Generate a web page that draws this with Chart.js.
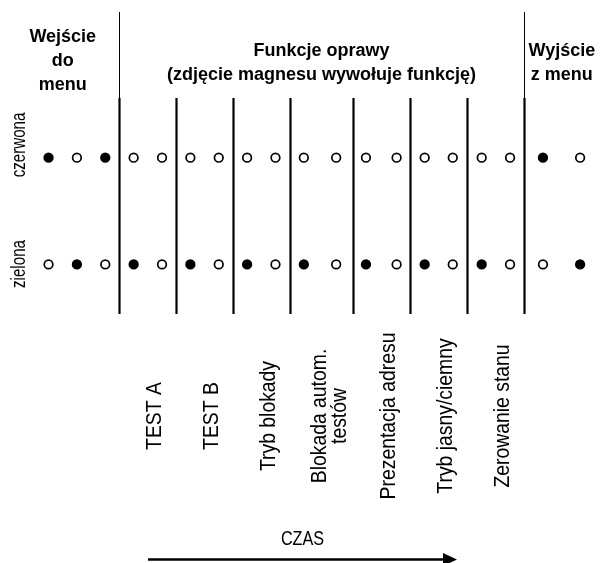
<!DOCTYPE html>
<html>
<head>
<meta charset="utf-8">
<script src="https://cdn.jsdelivr.net/npm/chart.js@4"></script>
<style>
  html, body { margin: 0; padding: 0; background: #fff; }
  #wrap { width: 602px; height: 563px; }
</style>
</head>
<body>
<div id="wrap"><canvas id="diagram"></canvas></div>
<script>
// chwile czasu, w ktorych dioda jest sprawdzana
const KROKI = [0, 1, 2, 3, 4, 5, 6, 7, 8, 9, 10.14, 11.19, 12.27, 13.26, 14.25, 15.27, 16.27, 17.43, 18.74];

// 1 = dioda swieci, 0 = zgaszona
const CZERWONA = [1, 0, 1, 0, 0, 0, 0, 0, 0, 0, 0, 0, 0, 0, 0, 0, 0, 1, 0];
const ZIELONA  = [0, 1, 0, 1, 0, 1, 0, 1, 0, 1, 0, 1, 0, 1, 0, 1, 0, 0, 1];

const WIERSZE = ["czerwona", "zielona"];

// granice pomiedzy funkcjami
const GRANICE = [2.5, 4.5, 6.5, 8.5, 10.75, 12.75, 14.75, 16.75];

const FUNKCJE = [
    ["TEST A"],
    ["TEST B"],
    ["Tryb blokady"],
    ["Blokada autom.", "testów"],
    ["Prezentacja adresu"],
    ["Tryb jasny/ciemny"],
    ["Zerowanie stanu"]
];

const NAGLOWKI = [
    { linie: ["Wejście", "do", "menu"], od: -1.5, do: 2.5 },
    { linie: ["Funkcje oprawy", "(zdjęcie magnesu wywołuje funkcję)"], od: 2.5, do: 16.75 },
    { linie: ["Wyjście", "z menu"], od: 16.75, do: 19.3 }
];

const OS_CZASU = "CZAS";

const FONT = '"Liberation Sans", Arial, sans-serif';

function punkty(stany, y) {
    return stany.map((s, i) => ({ x: KROKI[i], y: y }));
}

function kolory(stany) {
    return stany.map(s => s ? "#000" : "#fff");
}

// tekst zwezony (font waski), opcjonalnie obrocony o 90 stopni
function napis(ctx, tekst, x, y, zwezenie, obrot) {
    ctx.save();
    ctx.translate(x, y);
    if (obrot) ctx.rotate(-Math.PI / 2);
    ctx.scale(zwezenie, 1);
    ctx.fillText(tekst, 0, 0);
    ctx.restore();
}

const opisy = {
    id: "opisy",
    beforeDatasetsDraw(chart) {
        const ctx = chart.ctx;
        const sx = chart.scales.x;
        ctx.save();
        ctx.strokeStyle = "#000";

        // grube linie pomiedzy funkcjami
        ctx.lineWidth = 2.2;
        GRANICE.forEach(g => {
            const px = Math.round(sx.getPixelForValue(g)) + 0.5;
            ctx.beginPath();
            ctx.moveTo(px, 98);
            ctx.lineTo(px, 314);
            ctx.stroke();
        });

        // cienkie linie oddzielajace naglowki
        ctx.lineWidth = 1;
        [GRANICE[0], GRANICE[GRANICE.length - 1]].forEach(g => {
            const px = Math.round(sx.getPixelForValue(g)) + 0.5;
            ctx.beginPath();
            ctx.moveTo(px, 12);
            ctx.lineTo(px, 98);
            ctx.stroke();
        });

        ctx.fillStyle = "#000";
        ctx.textAlign = "center";
        ctx.textBaseline = "alphabetic";

        // naglowki
        ctx.font = "bold 18px " + FONT;
        NAGLOWKI.forEach((n, k) => {
            const cx = (sx.getPixelForValue(n.od) + sx.getPixelForValue(n.do)) / 2 + (k === 2 ? 2 : 0);
            const start = n.linie.length === 3 ? 42 : 56;
            n.linie.forEach((t, j) => ctx.fillText(t, cx, start + j * 24));
        });

        // nazwy diod
        ctx.font = "21px " + FONT;
        const srodki = [145, 264];
        WIERSZE.forEach((w, i) => napis(ctx, w, 25, srodki[i], 0.72, true));

        // nazwy funkcji
        ctx.font = "22px " + FONT;
        FUNKCJE.forEach((f, i) => {
            const cx = (sx.getPixelForValue(GRANICE[i]) + sx.getPixelForValue(GRANICE[i + 1])) / 2;
            f.forEach((t, j) => {
                const off = f.length === 1 ? 13.5 : 4 + j * 20.5;
                napis(ctx, t, cx + off, 416, 0.88, true);
            });
        });

        // os czasu
        ctx.font = "20px " + FONT;
        napis(ctx, OS_CZASU, 302.5, 545, 0.81, false);
        ctx.lineWidth = 2.5;
        ctx.beginPath();
        ctx.moveTo(148, 559.5);
        ctx.lineTo(446, 559.5);
        ctx.stroke();
        ctx.beginPath();
        ctx.moveTo(457, 559.5);
        ctx.lineTo(443, 553);
        ctx.lineTo(443, 566);
        ctx.closePath();
        ctx.fill();

        ctx.restore();
    }
};

new Chart(document.getElementById("diagram"), {
    type: "scatter",
    data: {
        datasets: [
            {
                label: WIERSZE[0],
                data: punkty(CZERWONA, 1),
                pointBackgroundColor: kolory(CZERWONA),
                pointBorderColor: "#000",
                pointBorderWidth: 1.7,
                pointRadius: 4.3
            },
            {
                label: WIERSZE[1],
                data: punkty(ZIELONA, 0),
                pointBackgroundColor: kolory(ZIELONA),
                pointBorderColor: "#000",
                pointBorderWidth: 1.7,
                pointRadius: 4.3
            }
        ]
    },
    options: {
        responsive: true,
        maintainAspectRatio: false,
        animation: false,
        layout: { padding: { left: 4, right: 2, top: 0, bottom: 0 } },
        plugins: {
            legend: { display: false },
            tooltip: { enabled: false }
        },
        scales: {
            x: { type: "linear", min: -1.5, max: 19.3, display: false },
            y: { type: "linear", min: -2.743, max: 2.422, display: false }
        }
    },
    plugins: [opisy]
});
</script>
</body>
</html>
